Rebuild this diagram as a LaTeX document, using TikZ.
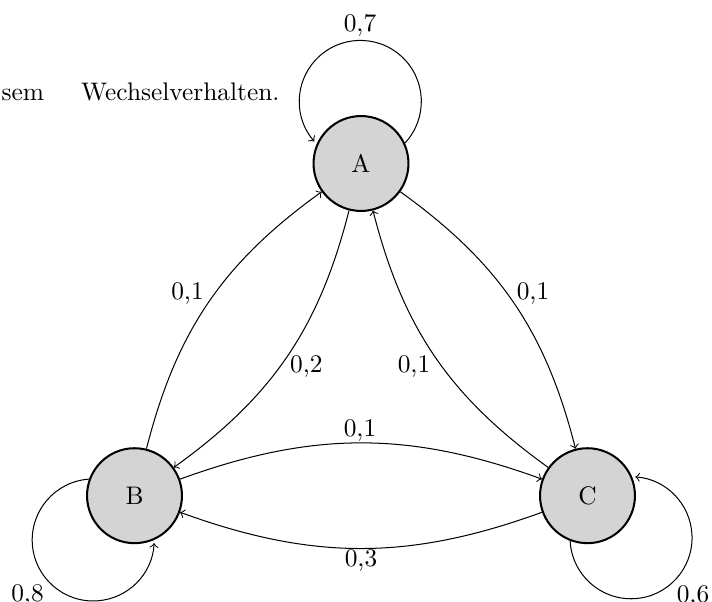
\documentclass[tikz,border=0pt]{standalone}
\begin{document}
\begin{tikzpicture}[x=0.394pt,y=0.394pt,
  state/.style={circle,draw,thick,fill=black!17,minimum size=37.4pt,inner sep=0pt},
  trans/.style={->,thin},
  lbl/.style={anchor=base,inner sep=0pt}]
\clip (0,0) rectangle (712,601);
\node[state] (A) at (361,437.5) {A};
\node[state] (B) at (134.5,105.3) {B};
\node[state] (C) at (587.5,105.3) {C};
\node[lbl,anchor=base east] (txt) at (280,500) {sem\hspace{14.6pt}Wechselverhalten.};
% edges
\draw[trans] (A) to[bend left=20] (B);
\draw[trans] (B) to[bend left=20] (A);
\draw[trans] (A) to[bend left=20] (C);
\draw[trans] (C) to[bend left=20] (A);
\draw[trans] (B) to[bend left=20] (C);
\draw[trans] (C) to[bend left=20] (B);
% loops
\draw[trans] (A.25) arc[start angle=-43,end angle=221,radius=61];
\draw[trans] (B.160) arc[start angle=94,end angle=357,radius=61];
\draw[trans] (C.249) arc[start angle=183,end angle=446,radius=61];
% labels
\node[lbl] (lAA) at (360,569) {0,7};
\node[lbl] (lBA) at (187.5,301.7) {0,1};
\node[lbl] (lAB) at (306.3,228.7) {0,2};
\node[lbl] (lCA) at (414,228.7) {0,1};
\node[lbl] (lAC) at (533,301.7) {0,1};
\node[lbl] (lBC) at (360,165) {0,1};
\node[lbl] (lCB) at (361,34.3) {0,3};
\node[lbl] (lBB) at (27.5,0) {0,8};
\node[lbl] (lCC) at (693,-1) {0,6};
\end{tikzpicture}
\end{document}
